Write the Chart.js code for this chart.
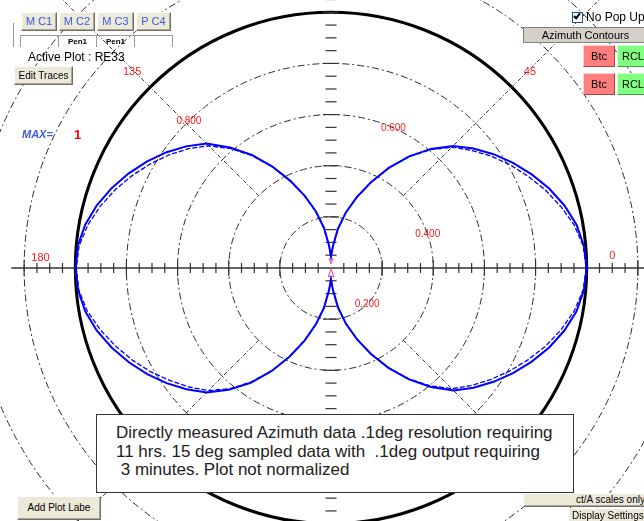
<!DOCTYPE html>
<html>
<head>
<meta charset="utf-8">
<script src="https://cdn.jsdelivr.net/npm/chart.js@4.4.1/dist/chart.umd.min.js"></script>
<style>
  html, body { margin: 0; padding: 0; width: 644px; height: 521px; overflow: hidden; background: #fff;
    font-family: "Liberation Sans", Arial, sans-serif; }
  #polar { position: absolute; left: -27px; top: -90px; width: 716px; height: 716px; }
  .ui { position: absolute; box-sizing: border-box; white-space: nowrap; overflow: hidden; }
  .btn { background: #ece9d8; border: 1px solid; border-color: #fff #716f64 #716f64 #fff;
    box-shadow: inset -1px -1px 0 #aca899; color: #000; font-size: 10px; text-align: center; }
  .mc { color: #3b5be0; font-size: 11px; line-height: 17px; }
  .red { background: #ff7f7f; border: 1px solid; border-color: #ffd0d0 #b04040 #b04040 #ffd0d0; font-size: 11px; text-align: center; line-height: 20px; }
  .green { background: #80ff80; border: 1px solid; border-color: #d0ffd0 #40a040 #40a040 #d0ffd0; font-size: 11px; text-align: center; line-height: 20px; }
  .tabline { background: #9a9a9a; }
  #note { left: 96px; top: 414px; width: 478px; height: 79px; background: #fff; border: 1px solid #333;
    color: #222; font-size: 17px; line-height: 18.5px; padding: 9px 0 0 19px; white-space: pre; }
</style>
</head>
<body>
<canvas id="polar" width="716" height="716"></canvas>

<!-- trace selector buttons -->
<div class="ui btn mc" style="left:21px;top:12px;width:36px;height:19px;">M C1</div>
<div class="ui btn mc" style="left:59px;top:12px;width:36px;height:19px;">M C2</div>
<div class="ui btn mc" style="left:97px;top:12px;width:37px;height:19px;">M C3</div>
<div class="ui btn mc" style="left:136px;top:12px;width:35px;height:19px;">P C4</div>
<div class="ui tabline" style="left:13px;top:23px;width:1px;height:24px;"></div>
<div class="ui tabline" style="left:20px;top:35px;width:153px;height:1px;"></div>
<div class="ui tabline" style="left:20px;top:35px;width:1px;height:12px;"></div>
<div class="ui tabline" style="left:58px;top:35px;width:1px;height:12px;"></div>
<div class="ui tabline" style="left:96px;top:35px;width:1px;height:12px;"></div>
<div class="ui tabline" style="left:134px;top:35px;width:1px;height:12px;"></div>
<div class="ui tabline" style="left:172px;top:35px;width:1px;height:12px;"></div>
<div class="ui" style="left:59px;top:37px;width:37px;font-size:8px;font-weight:bold;text-align:center;">Pen1</div>
<div class="ui" style="left:97px;top:37px;width:37px;font-size:8px;font-weight:bold;text-align:center;">Pen1</div>
<div class="ui" style="left:28px;top:50px;font-size:12px;color:#000;">Active Plot : RE33</div>
<div class="ui btn" style="left:14px;top:66px;width:59px;height:19px;line-height:17px;">Edit Traces</div>
<div class="ui" style="left:22px;top:128px;font-size:11px;font-weight:bold;font-style:italic;color:#3b5be0;">MAX=</div>
<div class="ui" style="left:74px;top:127px;font-size:13px;font-weight:bold;color:#f00;">1</div>

<!-- right-hand controls -->
<div class="ui" style="left:572px;top:12px;width:11px;height:11px;border:1px solid #1c5180;background:#fff;"></div>
<div class="ui" style="left:575px;top:12px;width:4px;height:7px;border-right:2px solid #000;border-bottom:2px solid #000;transform:rotate(40deg);"></div>
<div class="ui" style="left:586px;top:10px;font-size:12px;color:#000;">No Pop Up</div>
<div class="ui" style="left:523px;top:27px;width:125px;height:16px;background:#d4d0c8;border:1px solid #808080;font-size:11px;line-height:14px;text-align:center;">Azimuth Contours</div>
<div class="ui red" style="left:583px;top:45px;width:32px;height:22px;">Btc</div>
<div class="ui green" style="left:617px;top:45px;width:32px;height:22px;">RCL</div>
<div class="ui red" style="left:583px;top:73px;width:32px;height:22px;">Btc</div>
<div class="ui green" style="left:617px;top:73px;width:32px;height:22px;">RCL</div>

<!-- bottom controls -->
<div class="ui btn" style="left:17px;top:496px;width:84px;height:24px;line-height:22px;">Add Plot Labe</div>
<div class="ui btn" style="left:523px;top:493px;width:125px;height:14px;line-height:12px;text-align:left;padding-left:52px;">ct/A scales only</div>
<div class="ui btn" style="left:568px;top:508px;width:80px;height:15px;line-height:13px;text-align:left;padding-left:3px;">Display Settings</div>

<div id="note" class="ui">Directly measured Azimuth data .1deg resolution requiring
11 hrs. 15 deg sampled data with  .1deg output requiring
 3 minutes. Plot not normalized</div>

<script>
// Azimuth angles in degrees, counter-clockwise from 0
const azimuth = [
  0, 5, 10, 15, 20, 25, 30, 35, 40, 45, 50, 55, 60, 65, 70, 75, 80, 85, 90,
  95, 100, 105, 110, 115, 120, 125, 130, 135, 140, 145, 150, 155, 160, 165, 170, 175, 180,
  185, 190, 195, 200, 205, 210, 215, 220, 225, 230, 235, 240, 245, 250, 255, 260, 265, 270,
  275, 280, 285, 290, 295, 300, 305, 310, 315, 320, 325, 330, 335, 340, 345, 350, 355
];

// Directly measured trace (0.1 deg resolution)
const measured = [
  1.000, 0.993, 0.975, 0.945, 0.908, 0.866, 0.822, 0.776, 0.727, 0.675, 0.608, 0.533, 0.452, 0.370, 0.295, 0.225, 0.155, 0.085, 0.045,
  0.088, 0.160, 0.230, 0.300, 0.376, 0.458, 0.540, 0.615, 0.688, 0.740, 0.788, 0.832, 0.874, 0.913, 0.948, 0.976, 0.994, 0.998,
  0.993, 0.976, 0.948, 0.912, 0.872, 0.830, 0.785, 0.738, 0.688, 0.622, 0.548, 0.466, 0.382, 0.302, 0.228, 0.158, 0.086, 0.045,
  0.085, 0.156, 0.226, 0.296, 0.372, 0.452, 0.532, 0.607, 0.678, 0.728, 0.776, 0.822, 0.866, 0.908, 0.945, 0.975, 0.993
];

// 15 deg sampled data with 0.1 deg output
const sampled = [
  0.998, 0.990, 0.966, 0.930, 0.892, 0.850, 0.808, 0.763, 0.716, 0.668, 0.604, 0.531, 0.451, 0.369, 0.294, 0.224, 0.154, 0.084, 0.044,
  0.087, 0.158, 0.228, 0.298, 0.374, 0.455, 0.536, 0.609, 0.676, 0.726, 0.772, 0.815, 0.857, 0.897, 0.934, 0.966, 0.989, 0.996,
  0.990, 0.968, 0.934, 0.896, 0.855, 0.813, 0.768, 0.724, 0.678, 0.616, 0.545, 0.464, 0.381, 0.301, 0.227, 0.157, 0.085, 0.044,
  0.084, 0.155, 0.225, 0.295, 0.371, 0.450, 0.529, 0.601, 0.668, 0.715, 0.761, 0.806, 0.850, 0.893, 0.932, 0.966, 0.990
];

// Angle captions and ring captions
const angleLabels = [0, 45, 135, 180];
const ringValues = [0.2, 0.4, 0.6, 0.8];
const ringLabels = ['0.200', '0.400', '0.600', '0.800'];

// Radar indices run clockwise from the start angle; reorder so azimuth grows counter-clockwise.
const n = azimuth.length;
const order = azimuth.map((_, i) => (n - i) % n);
const radarLabels = order.map(j => azimuth[j]);
const measuredR = order.map(j => measured[j]);
const sampledR = order.map(j => sampled[j]);

const isUnity = v => Math.abs(v - 1) < 1e-6;

const polarDecor = {
  id: 'polarDecor',
  beforeDatasetsDraw(chart) {
    const s = chart.scales.r;
    const ctx = chart.ctx;
    const cx = s.xCenter, cy = s.yCenter;
    const at = (deg, v) => {
      const r = s.getDistanceFromCenterForValue(v), a = deg * Math.PI / 180;
      return { x: cx + r * Math.cos(a), y: cy - r * Math.sin(a) };
    };
    ctx.save();

    // diagonal spokes, starting at the 0.4 ring
    ctx.strokeStyle = '#3a3a3a';
    ctx.lineWidth = 1;
    ctx.setLineDash([4, 2, 1, 2]);
    [45, 135, 225, 315].forEach(deg => {
      const p0 = at(deg, 0.4), p1 = at(deg, 1.7);
      ctx.beginPath(); ctx.moveTo(p0.x, p0.y); ctx.lineTo(p1.x, p1.y); ctx.stroke();
    });

    // horizontal axis line
    ctx.setLineDash([]);
    ctx.strokeStyle = '#333';
    ctx.lineWidth = 1.5;
    const l = at(180, 1.25), r = at(0, 1.3);
    ctx.beginPath(); ctx.moveTo(l.x, cy); ctx.lineTo(r.x, cy); ctx.stroke();

    // tick marks every 0.05 along both axes
    ctx.lineWidth = 1.2;
    for (let k = 1; k <= 24; k++) {
      const v = k * 0.05, major = k % 4 === 0;
      const h = major ? 8 : 5;
      [0, 180].forEach(deg => {
        const p = at(deg, v);
        ctx.beginPath(); ctx.moveTo(p.x, cy - h); ctx.lineTo(p.x, cy + h); ctx.stroke();
      });
      const w = major ? 8 : 5.5;
      [90, 270].forEach(deg => {
        const p = at(deg, v);
        ctx.beginPath(); ctx.moveTo(cx - w, p.y); ctx.lineTo(cx + w, p.y); ctx.stroke();
      });
    }

    // captions
    ctx.fillStyle = '#ff1a1a';
    ctx.textBaseline = 'middle';
    ctx.font = '11px "Liberation Sans", Arial, sans-serif';
    angleLabels.forEach(deg => {
      const p = at(deg, 1.1);
      if (deg === 0) {
        ctx.textAlign = 'left';
        ctx.fillText(String(deg), p.x - 3, p.y - 12);
      } else if (deg === 180) {
        ctx.textAlign = 'right';
        ctx.fillText(String(deg), p.x, p.y - 10);
      } else {
        ctx.textAlign = 'center';
        ctx.fillText(String(deg), p.x, p.y + 3);
      }
    });
    ctx.textAlign = 'center';
    ctx.font = '10px "Liberation Sans", Arial, sans-serif';
    const ringAngles = [-45, 19, 66, 134];
    ringValues.forEach((v, i) => {
      const p = at(ringAngles[i], v);
      ctx.fillText(ringLabels[i], p.x, p.y);
    });

    // centre markers
    ctx.fillStyle = '#ff3399';
    ctx.font = '10px "Liberation Sans", Arial, sans-serif';
    ctx.fillText('v', cx, cy - 7);
    ctx.fillText('\u0394', cx, cy + 6);
    ctx.restore();
  }
};

new Chart(document.getElementById('polar'), {
  type: 'radar',
  data: {
    labels: radarLabels,
    datasets: [
      { label: 'Measured', data: measuredR, borderColor: '#0000ff', borderWidth: 2,
        pointRadius: 0, fill: false, tension: 0 },
      { label: 'Sampled', data: sampledR, borderColor: '#0000ff', borderWidth: 1.3,
        borderDash: [5, 2], pointRadius: 0, fill: false, tension: 0 }
    ]
  },
  options: {
    responsive: false,
    animation: false,
    events: [],
    layout: { padding: 0 },
    plugins: { legend: { display: false }, tooltip: { enabled: false } },
    scales: {
      r: {
        min: 0,
        max: 1.4,
        startAngle: 90,
        ticks: { display: false, stepSize: 0.2 },
        pointLabels: { display: false },
        angleLines: { display: false },
        grid: {
          circular: true,
          color: ctx => isUnity(ctx.tick.value) ? '#000' : '#2a2a2a',
          lineWidth: ctx => isUnity(ctx.tick.value) ? 3 : 1
        },
        border: {
          dash: ctx => isUnity(ctx.tick.value) ? [] : [7, 3, 2, 3]
        }
      }
    }
  },
  plugins: [polarDecor]
});
</script>
</body>
</html>
